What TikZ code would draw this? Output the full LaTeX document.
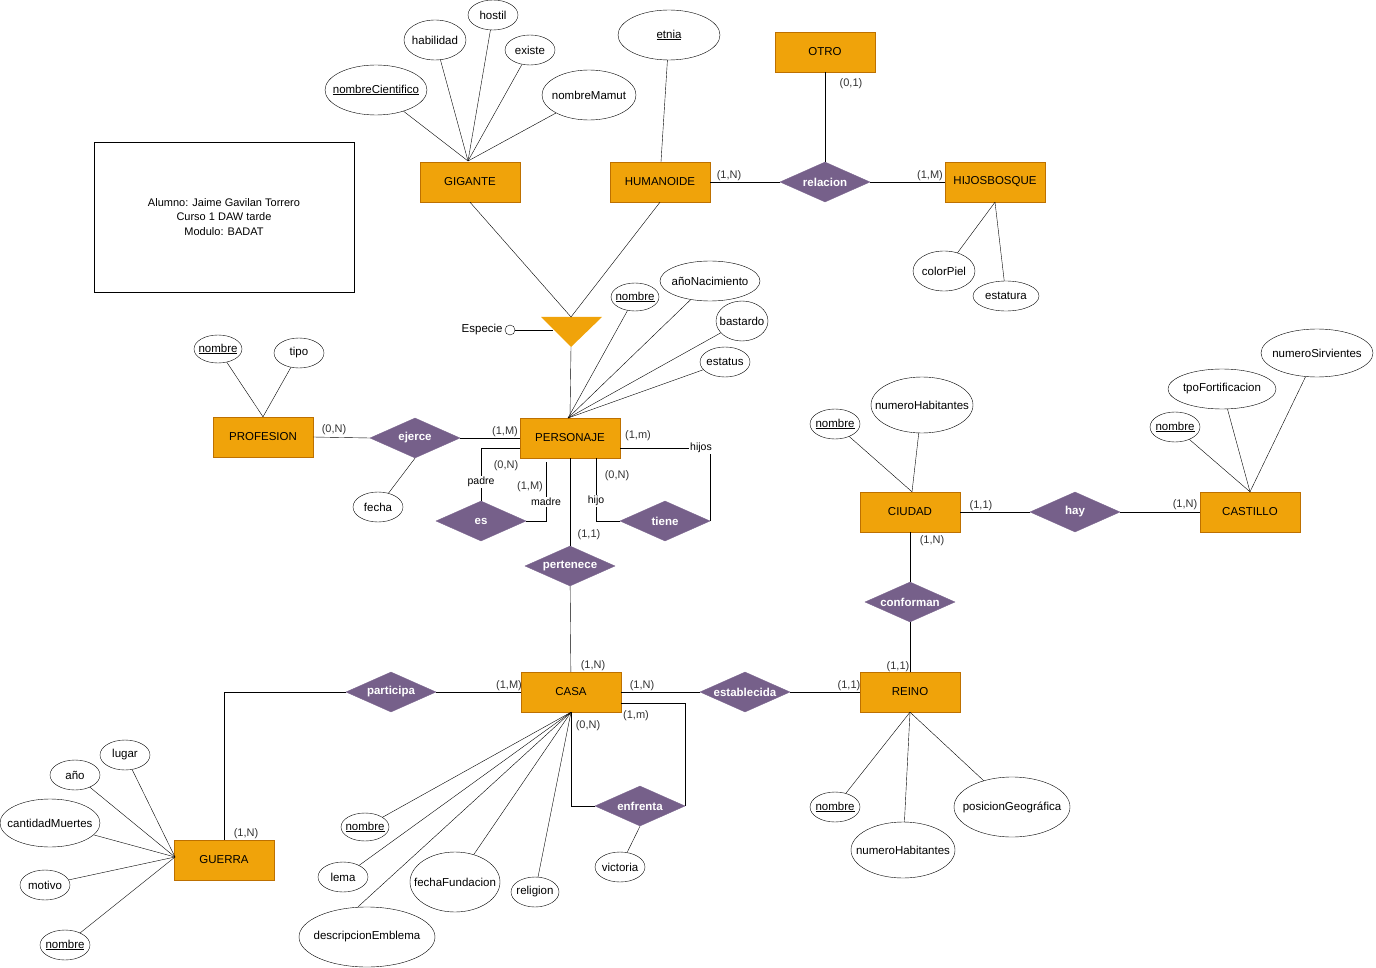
\documentclass[tikz,border=0pt]{standalone}
\usepackage{fontspec}
\setmainfont{Liberation Sans}
\usepackage{tikz}
\usetikzlibrary{shapes.geometric,positioning}

\definecolor{naranja}{HTML}{F0A30A}
\definecolor{bordenar}{HTML}{BD7000}
\definecolor{morado}{HTML}{76608A}
\definecolor{gristexto}{HTML}{333333}

\newcommand{\atxt}[1]{\makebox[0pt]{#1}}
\newcommand{\clave}[1]{\makebox[0pt]{\underline{#1}}}

\tikzset{
  entidad/.style={rectangle, fill=naranja, draw=bordenar, minimum width=100pt, minimum height=40pt, font=\fontsize{11.5}{13}\selectfont},
  relac/.style={diamond, fill=morado, draw=morado, text=white, aspect=2.25, inner sep=0pt, minimum width=90pt, minimum height=40pt, font=\fontsize{11.5}{13}\selectfont\bfseries},
  atributo/.style={ellipse, draw, fill=white, inner sep=0pt, font=\fontsize{11.5}{13}\selectfont},
  card/.style={text=gristexto, inner sep=0pt, font=\fontsize{11}{13}\selectfont},
  rol/.style={fill=white, inner sep=1pt, font=\fontsize{10.5}{12}\selectfont}
}

\begin{document}
\begin{tikzpicture}[x=1pt,y=-1pt]
  \useasboundingbox (0,0) rectangle (1376,968);

  % entidades
  \node[entidad] (gigante) at (470,182) {GIGANTE};
  \node[entidad] (humanoide) at (660,182) {HUMANOIDE};
  \node[entidad] (otro) at (825,52) {OTRO};
  \node[entidad] (hijosbosque) at (995,182) {HIJOSBOSQUE};
  \node[entidad] (profesion) at (263,437) {PROFESION};
  \node[entidad] (personaje) at (570,438) {PERSONAJE};
  \node[entidad] (ciudad) at (910,512) {CIUDAD};
  \node[entidad] (castillo) at (1250,512) {CASTILLO};
  \node[entidad] (casa) at (571,692) {CASA};
  \node[entidad] (reino) at (910,692) {REINO};
  \node[entidad] (guerra) at (224,860) {GUERRA};

  % relaciones
  \node[relac] (relacion) at (825,182) {relacion};
  \node[relac] (ejerce) at (415,438) {ejerce};
  \node[relac] (es) at (481,521) {es};
  \node[relac] (tiene) at (665,521) {tiene};
  \node[relac] (pertenece) at (570,566) {pertenece};
  \node[relac] (hay) at (1075,512) {hay};
  \node[relac] (conforman) at (910,602) {conforman};
  \node[relac] (participa) at (391,692) {participa};
  \node[relac] (establecida) at (745,692) {establecida};
  \node[relac] (enfrenta) at (640,806) {enfrenta};

  % caja del autor
  \node[draw, minimum width=260pt, minimum height=150pt, align=center, font=\fontsize{11}{14.5}\selectfont] (autor) at (224,217)
    {Alumno: Jaime Gavilan Torrero\\Curso 1 DAW tarde\\Modulo: BADAT};

  % especializacion
  \coordinate (esparriba) at (571,317);
  \coordinate (espabajo) at (571,347);
  \coordinate (espizq) at (553,330);
  \fill[naranja] (541,317) -- (602,317) -- (espabajo) -- cycle;
  \node[circle, draw, inner sep=0pt, minimum size=10pt] (espcirc) at (510,330) {};
  \node[left=2pt of espcirc, font=\fontsize{11.5}{13}\selectfont, inner sep=0pt] (especie) {Especie};
  \draw (espcirc) -- (espizq);
  \draw (gigante.south) -- (esparriba);
  \draw (humanoide.south) -- (esparriba);
  \draw (espabajo) -- (personaje.north);

  % atributos GIGANTE
  \node[atributo, minimum width=62pt, minimum height=40pt] (habilidad) at (435,40) {\atxt{habilidad}};
  \node[atributo, minimum width=50pt, minimum height=30pt] (hostil) at (493,15) {\atxt{hostil}};
  \node[atributo, minimum width=50pt, minimum height=30pt] (existe) at (530,50) {\atxt{existe}};
  \node[atributo, minimum width=102pt, minimum height=50pt] (nomcient) at (376,90) {\clave{nombreCientifico}};
  \node[atributo, minimum width=94pt, minimum height=50pt] (nommamut) at (589,95) {\atxt{nombreMamut}};
  \coordinate (gigarriba) at (468,161);
  \draw (habilidad) -- (gigarriba);
  \draw (hostil) -- (gigarriba);
  \draw (existe) -- (gigarriba);
  \draw (nomcient) -- (gigarriba);
  \draw (nommamut) -- (gigarriba);

  % atributos HUMANOIDE e HIJOSBOSQUE
  \node[atributo, minimum width=102pt, minimum height=50pt] (etnia) at (669,35) {\clave{etnia}};
  \draw (etnia) -- ([xshift=1pt]humanoide.north);
  \node[atributo, minimum width=62pt, minimum height=40pt] (colorpiel) at (944,271) {\atxt{colorPiel}};
  \node[atributo, minimum width=66pt, minimum height=30pt] (estatura) at (1006,296) {\atxt{estatura}};
  \draw (colorpiel) -- (hijosbosque.south);
  \draw (estatura) -- (hijosbosque.south);

  % atributos PERSONAJE
  \node[atributo, minimum width=48pt, minimum height=28pt] (pnombre) at (635,297) {\clave{nombre}};
  \node[atributo, minimum width=100pt, minimum height=40pt] (anionac) at (710,281) {\atxt{añoNacimiento}};
  \node[atributo, minimum width=52pt, minimum height=40pt] (bastardo) at (742,321) {\atxt{bastardo}};
  \node[atributo, minimum width=50pt, minimum height=30pt] (estatus) at (725,362) {\atxt{estatus}};
  \coordinate (perarriba) at (568,418);
  \draw (pnombre) -- (perarriba);
  \draw (anionac) -- (perarriba);
  \draw (bastardo) -- (perarriba);
  \draw (estatus) -- (perarriba);

  % atributos PROFESION
  \node[atributo, minimum width=48pt, minimum height=28pt] (profnombre) at (218,349) {\clave{nombre}};
  \node[atributo, minimum width=50pt, minimum height=30pt] (tipo) at (299,353) {\atxt{tipo}};
  \node[atributo, minimum width=50pt, minimum height=30pt] (fecha) at (378,507) {\atxt{fecha}};
  \draw (profnombre) -- (profesion.north);
  \draw (tipo) -- (profesion.north);
  \draw (ejerce.south) -- (fecha);

  % atributos CIUDAD y CASTILLO
  \node[atributo, minimum width=50pt, minimum height=30pt] (ciunombre) at (835,424) {\clave{nombre}};
  \node[atributo, minimum width=102pt, minimum height=56pt] (ciuhab) at (922,405) {\atxt{numeroHabitantes}};
  \draw (ciunombre) -- ([xshift=2pt]ciudad.north);
  \draw (ciuhab) -- ([xshift=2pt]ciudad.north);
  \node[atributo, minimum width=50pt, minimum height=30pt] (casnombre) at (1175,427) {\clave{nombre}};
  \node[atributo, minimum width=108pt, minimum height=40pt] (fortif) at (1222,389) {\atxt{tpoFortificacion}};
  \node[atributo, minimum width=112pt, minimum height=48pt] (sirvientes) at (1317,353) {\atxt{numeroSirvientes}};
  \draw (casnombre) -- (castillo.north);
  \draw (fortif) -- (castillo.north);
  \draw (sirvientes) -- (castillo.north);

  % atributos REINO
  \node[atributo, minimum width=50pt, minimum height=30pt] (reinombre) at (835,807) {\clave{nombre}};
  \node[atributo, minimum width=104pt, minimum height=56pt] (reihab) at (903,850) {\atxt{numeroHabitantes}};
  \node[atributo, minimum width=116pt, minimum height=60pt] (posgeo) at (1012,807) {\atxt{posicionGeográfica}};
  \draw (reinombre) -- (reino.south);
  \draw (reihab) -- (reino.south);
  \draw (posgeo) -- (reino.south);

  % atributos CASA
  \node[atributo, minimum width=48pt, minimum height=28pt] (casanombre) at (365,827) {\clave{nombre}};
  \node[atributo, minimum width=50pt, minimum height=30pt] (lema) at (343,877) {\atxt{lema}};
  \node[atributo, minimum width=136pt, minimum height=60pt] (emblema) at (367,937) {\atxt{descripcionEmblema}};
  \node[atributo, minimum width=90pt, minimum height=60pt] (fundacion) at (455,882) {\atxt{fechaFundacion}};
  \node[atributo, minimum width=48pt, minimum height=30pt] (religion) at (535,892) {\atxt{religion}};
  \node[atributo, minimum width=50pt, minimum height=30pt] (victoria) at (620,867) {\atxt{victoria}};
  \draw (casanombre) -- (casa.south);
  \draw (lema) -- (casa.south);
  \draw ([xshift=-9pt]emblema.north) -- (casa.south);
  \draw (fundacion) -- (casa.south);
  \draw (religion) -- (casa.south);
  \draw (enfrenta.south) -- (victoria);

  % atributos GUERRA
  \node[atributo, minimum width=50pt, minimum height=30pt] (lugar) at (125,755) {\atxt{lugar}};
  \node[atributo, minimum width=50pt, minimum height=30pt] (anio) at (75,775) {\atxt{año}};
  \node[atributo, minimum width=100pt, minimum height=48pt] (muertes) at (50,823) {\atxt{cantidadMuertes}};
  \node[atributo, minimum width=50pt, minimum height=30pt] (motivo) at (45,885) {\atxt{motivo}};
  \node[atributo, minimum width=50pt, minimum height=30pt] (guenombre) at (65,945) {\clave{nombre}};
  \coordinate (gueizq) at (175,857);
  \draw (lugar) -- (gueizq);
  \draw (anio) -- (gueizq);
  \draw (muertes) -- (gueizq);
  \draw (motivo) -- (gueizq);
  \draw (guenombre) -- (gueizq);

  % conexiones de relaciones
  \draw (otro) -- (relacion);
  \draw (humanoide) -- (relacion);
  \draw (relacion) -- (hijosbosque);
  \draw (profesion.east) -- (ejerce.west);
  \draw (ejerce) -- (personaje);
  \draw ([yshift=-10pt]personaje.west) -| (es.north);
  \draw (es.east) -| ([xshift=-24pt,yshift=-4pt]personaje.south);
  \draw ([xshift=26pt]personaje.south) |- (tiene.west);
  \draw ([yshift=-10pt]personaje.east) -| (tiene.east);
  \draw (personaje) -- (pertenece);
  \draw (pertenece) -- (casa);
  \draw (ciudad) -- (hay);
  \draw (hay) -- (castillo);
  \draw (ciudad) -- (conforman);
  \draw (conforman) -- (reino);
  \draw (participa) -- (casa);
  \draw (participa.west) -| (guerra.north);
  \draw (casa) -- (establecida);
  \draw (establecida) -- (reino);
  \draw ([yshift=-11pt]casa.east) -| (enfrenta.east);
  \draw (casa.south) |- (enfrenta.west);

  % roles
  \node[rol] (rpadre) at (481,482) {padre};
  \node[rol] (rmadre) at (546,502) {madre};
  \node[rol] (rhijo) at (596,501) {hijo};
  \node[rol] (rhijos) at (701,448) {hijos};

  % cardinalidades
  \node[card] (c01) at (851,84) {(0,1)};
  \node[card] (c02) at (729,176) {(1,N)};
  \node[card] (c03) at (930,176) {(1,M)};
  \node[card] (c04) at (334,430) {(0,N)};
  \node[card] (c05) at (505,432) {(1,M)};
  \node[card] (c06) at (638,436) {(1,m)};
  \node[card] (c07) at (506,466) {(0,N)};
  \node[card] (c08) at (530,487) {(1,M)};
  \node[card] (c09) at (617,476) {(0,N)};
  \node[card] (c10) at (589,535) {(1,1)};
  \node[card] (c11) at (593,666) {(1,N)};
  \node[card] (c12) at (509,686) {(1,M)};
  \node[card] (c13) at (642,686) {(1,N)};
  \node[card] (c14) at (636,716) {(1,m)};
  \node[card] (c15) at (588,726) {(0,N)};
  \node[card] (c16) at (849,686) {(1,1)};
  \node[card] (c17) at (898,667) {(1,1)};
  \node[card] (c18) at (932,541) {(1,N)};
  \node[card] (c19) at (981,506) {(1,1)};
  \node[card] (c20) at (1185,505) {(1,N)};
  \node[card] (c21) at (246,834) {(1,N)};
\end{tikzpicture}
\end{document}
